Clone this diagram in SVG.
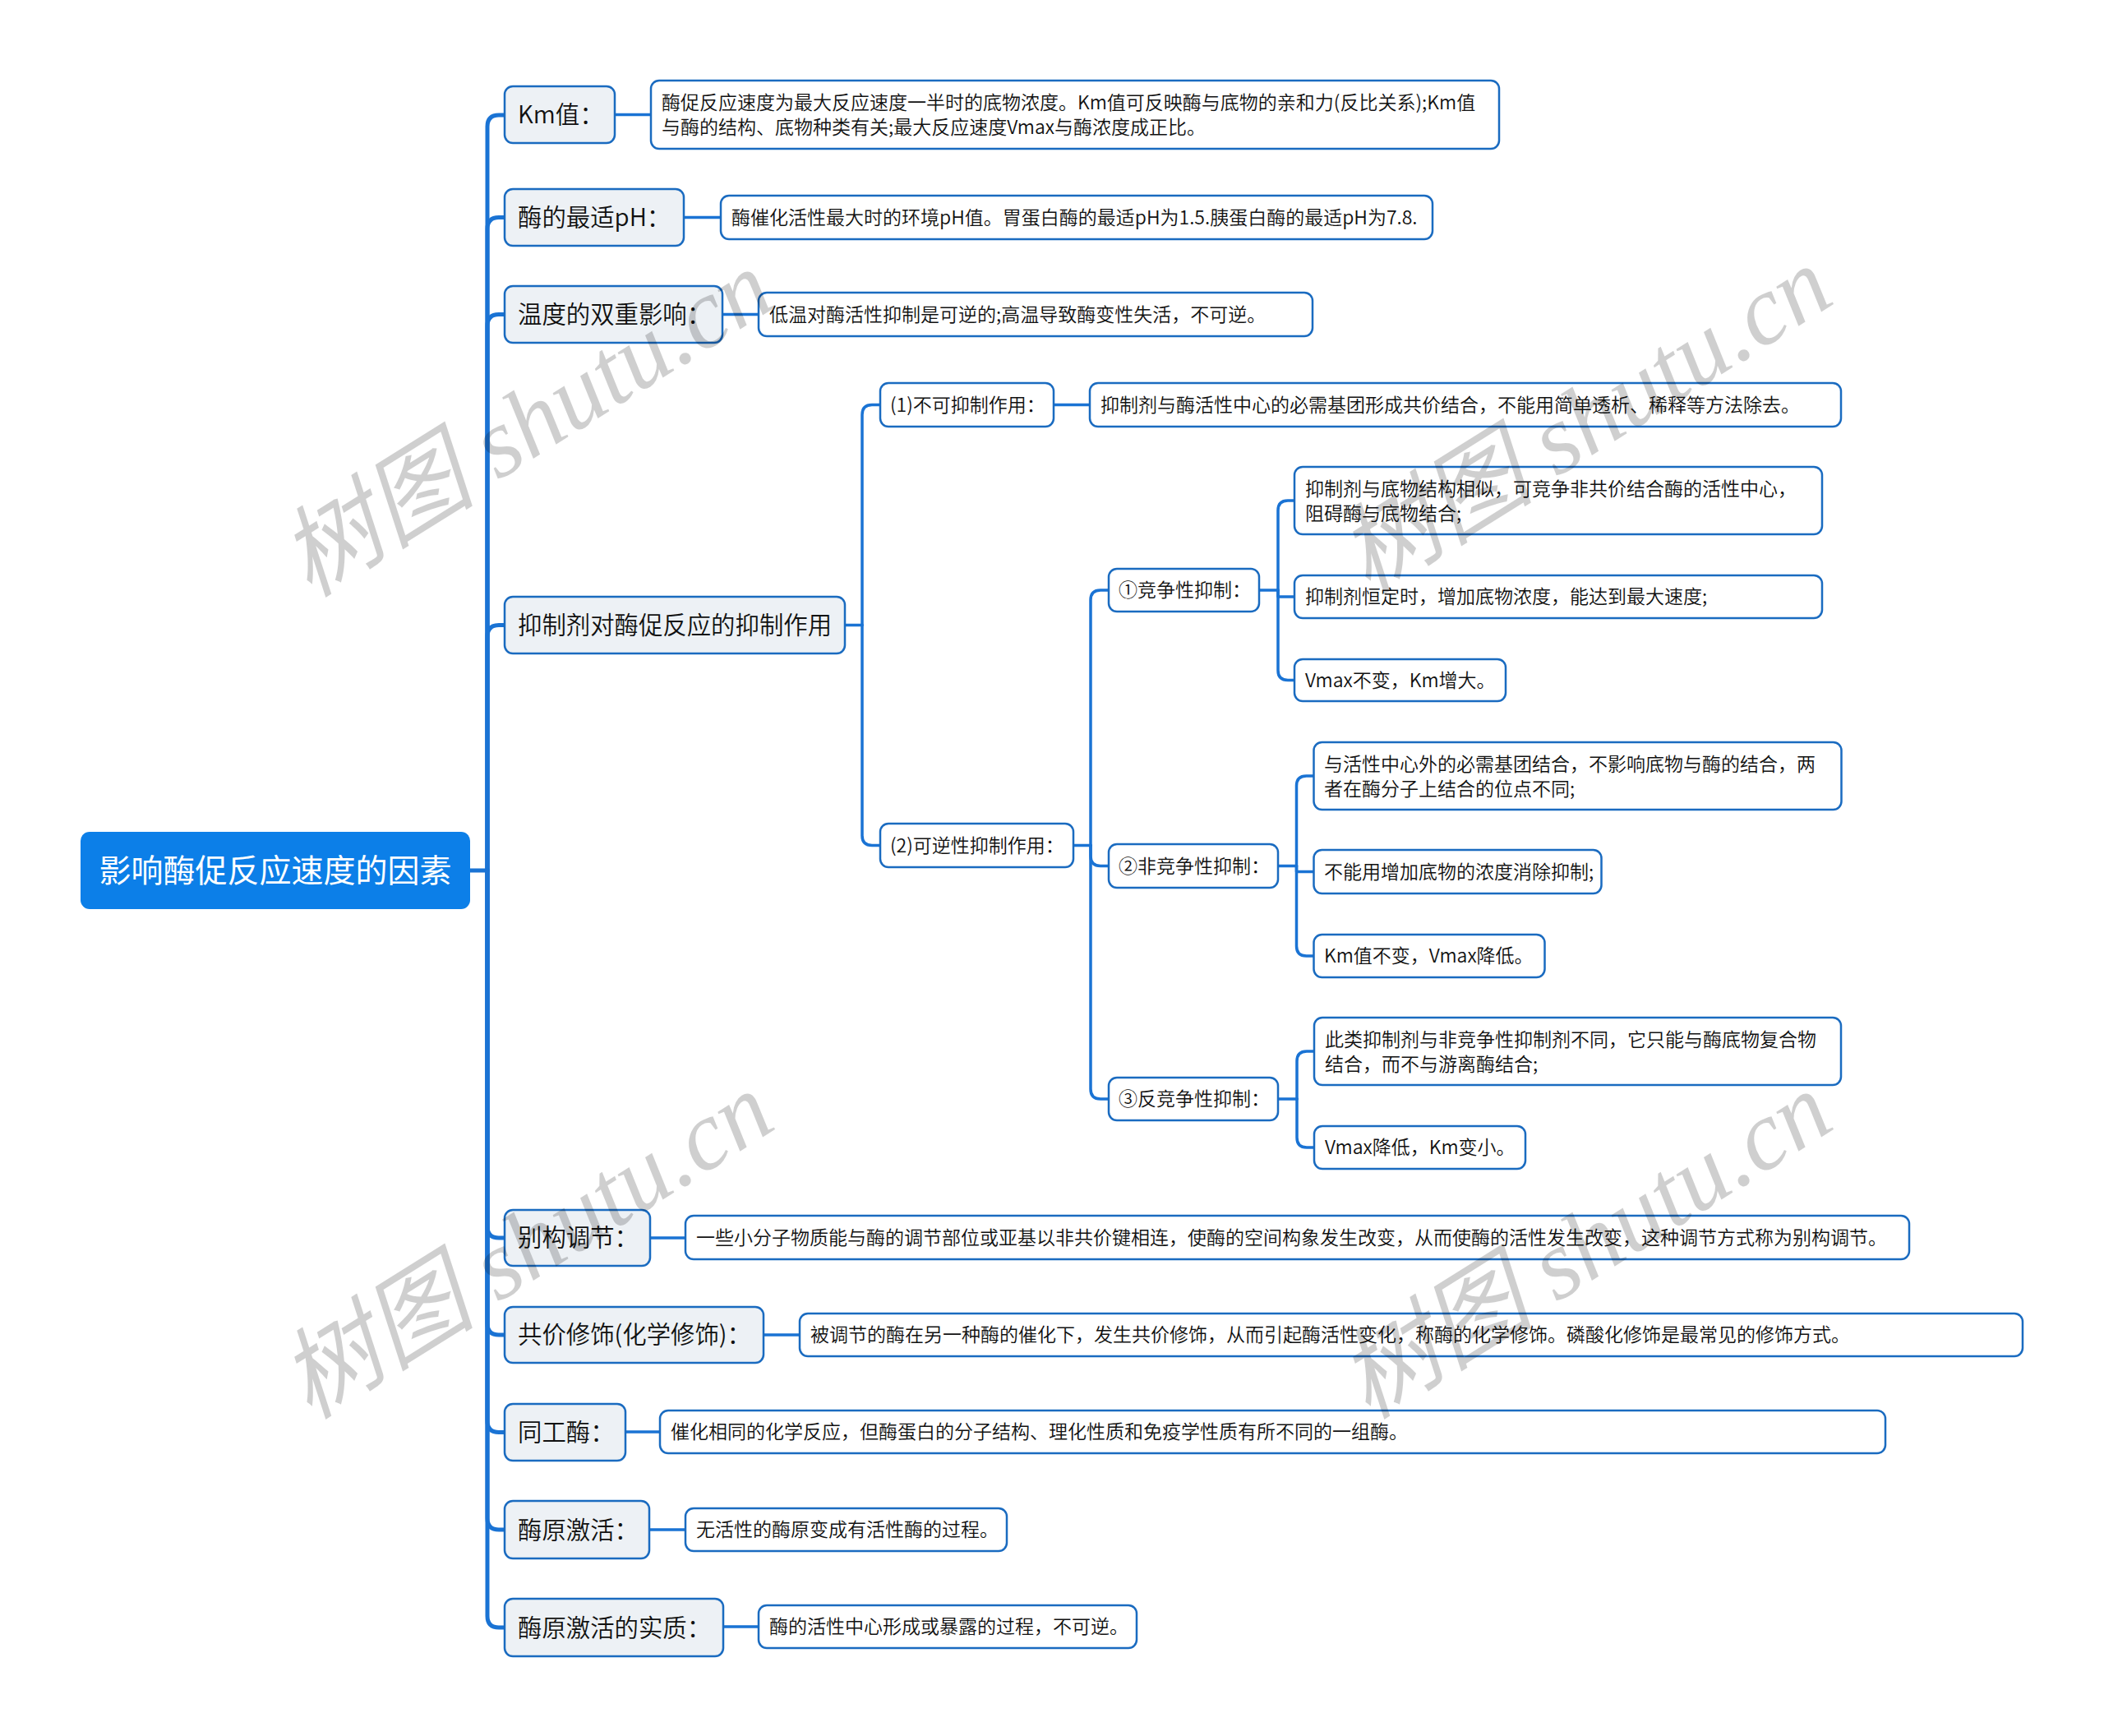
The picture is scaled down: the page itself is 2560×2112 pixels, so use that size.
<svg xmlns="http://www.w3.org/2000/svg" width="2560" height="2112" viewBox="0 0 2560 2112">
<style>
  .bg{fill:#ffffff}
  .root{fill:#0c7fe8}
  .l1{fill:#edf1f5;stroke:#1a6bc0;stroke-width:2.5}
  .lf{fill:#ffffff;stroke:#1a6bc0;stroke-width:2.5}
  .t{font-family:"Noto Sans CJK SC","Liberation Sans",sans-serif;fill:#111111;font-weight:350}
  .t0{font-size:39px;fill:#ffffff;font-weight:400}
  .t1{font-size:29.4px}
  .t2{font-size:23px}
  .c{fill:none;stroke:#1a73d4;stroke-width:3.5;stroke-linecap:round;stroke-linejoin:round}
  .cs{stroke-width:5}
  .wm{font-family:"Liberation Serif","Noto Sans CJK SC",serif;font-style:italic;font-size:120px;fill:#000000;fill-opacity:0.19}
</style>
<rect class="bg" x="0" y="0" width="2560" height="2112"/>

<g id="connectors">
  <path class="c cs" d="M572,1059 L593,1059"/>
  <path class="c cs" d="M593,1059 L593,154 Q593,140 607,140 L614,140"/>
  <path class="c cs" d="M593,1059 L593,278.5 Q593,264.5 607,264.5 L614,264.5"/>
  <path class="c cs" d="M593,1059 L593,396.5 Q593,382.5 607,382.5 L614,382.5"/>
  <path class="c cs" d="M593,1059 L593,774.5 Q593,760.5 607,760.5 L614,760.5"/>
  <path class="c cs" d="M593,1059 L593,1492 Q593,1506 607,1506 L614,1506"/>
  <path class="c cs" d="M593,1059 L593,1610 Q593,1624 607,1624 L614,1624"/>
  <path class="c cs" d="M593,1059 L593,1728.5 Q593,1742.5 607,1742.5 L614,1742.5"/>
  <path class="c cs" d="M593,1059 L593,1847 Q593,1861 607,1861 L614,1861"/>
  <path class="c cs" d="M593,1059 L593,1966 Q593,1980 607,1980 L614,1980"/>
  <path class="c" d="M748,139.5 L792,139.5"/>
  <path class="c" d="M832,264.5 L877,264.5"/>
  <path class="c" d="M879,382.5 L923,382.5"/>
  <path class="c" d="M791,1506 L834,1506"/>
  <path class="c" d="M929,1624 L973,1624"/>
  <path class="c" d="M761,1742 L803,1742"/>
  <path class="c" d="M790,1861 L834,1861"/>
  <path class="c" d="M880,1979 L923,1979"/>
  <path class="c" d="M1028,760.5 L1049,760.5"/>
  <path class="c" d="M1049,760.5 L1049,504.5 Q1049,492.5 1061,492.5 L1071,492.5"/>
  <path class="c" d="M1049,760.5 L1049,1016.5 Q1049,1028.5 1061,1028.5 L1071,1028.5"/>
  <path class="c" d="M1282,492.5 L1326,492.5"/>
  <path class="c" d="M1306,1028.5 L1327,1028.5"/>
  <path class="c" d="M1327,1028.5 L1327,730 Q1327,718 1339,718 L1349,718"/>
  <path class="c" d="M1327,1028.5 L1327,1041.5 Q1327,1053.5 1339,1053.5 L1349,1053.5"/>
  <path class="c" d="M1327,1028.5 L1327,1325 Q1327,1337 1339,1337 L1349,1337"/>
  <path class="c" d="M1532,718 L1555,718"/>
  <path class="c" d="M1555,718 L1555,621 Q1555,609 1567,609 L1575,609"/>
  <path class="c" d="M1555,718 L1555,726 L1575,726"/>
  <path class="c" d="M1555,718 L1555,815.5 Q1555,827.5 1567,827.5 L1575,827.5"/>
  <path class="c" d="M1555,1053.5 L1577.5,1053.5"/>
  <path class="c" d="M1577.5,1053.5 L1577.5,956 Q1577.5,944 1589.5,944 L1598.5,944"/>
  <path class="c" d="M1577.5,1053.5 L1577.5,1060.5 L1598.5,1060.5"/>
  <path class="c" d="M1577.5,1053.5 L1577.5,1151 Q1577.5,1163 1589.5,1163 L1598.5,1163"/>
  <path class="c" d="M1555,1337 L1578,1337"/>
  <path class="c" d="M1578,1337 L1578,1291 Q1578,1279 1590,1279 L1599,1279"/>
  <path class="c" d="M1578,1337 L1578,1384 Q1578,1396 1590,1396 L1599,1396"/>
</g>

<g id="root">
  <rect class="root" x="98" y="1012" width="474" height="94" rx="11"/>
  <text class="t t0" x="335" y="1073" text-anchor="middle">影响酶促反应速度的因素</text>
</g>

<g id="n-km">
  <rect class="l1" x="614" y="105" width="134" height="69" rx="10"/>
  <text class="t t1" x="630" y="150">Km值：</text>
</g>
<g id="n-km-d">
  <rect class="lf" x="792" y="98" width="1032" height="83" rx="10"/>
  <text class="t t2" x="805" y="133">酶促反应速度为最大反应速度一半时的底物浓度。Km值可反映酶与底物的亲和力(反比关系);Km值</text>
  <text class="t t2" x="805" y="163">与酶的结构、底物种类有关;最大反应速度Vmax与酶浓度成正比。</text>
</g>

<g id="n-ph">
  <rect class="l1" x="614" y="230" width="218" height="69" rx="10"/>
  <text class="t t1" x="630" y="275">酶的最适pH：</text>
</g>
<g id="n-ph-d">
  <rect class="lf" x="877" y="238" width="866" height="53" rx="10"/>
  <text class="t t2" x="890" y="273">酶催化活性最大时的环境pH值。胃蛋白酶的最适pH为1.5.胰蛋白酶的最适pH为7.8.</text>
</g>

<g id="n-temp">
  <rect class="l1" x="614" y="348" width="265" height="69" rx="10"/>
  <text class="t t1" x="630" y="393">温度的双重影响：</text>
</g>
<g id="n-temp-d">
  <rect class="lf" x="923" y="356" width="674" height="53" rx="10"/>
  <text class="t t2" x="936" y="391">低温对酶活性抑制是可逆的;高温导致酶变性失活，不可逆。</text>
</g>

<g id="n-inh">
  <rect class="l1" x="614" y="726" width="414" height="69" rx="10"/>
  <text class="t t1" x="630" y="771">抑制剂对酶促反应的抑制作用</text>
</g>

<g id="n-irrev">
  <rect class="lf" x="1071" y="466" width="211" height="53" rx="10"/>
  <text class="t t2" x="1083" y="501">(1)不可抑制作用：</text>
</g>
<g id="n-irrev-d">
  <rect class="lf" x="1326" y="466" width="914" height="53" rx="10"/>
  <text class="t t2" x="1339" y="501">抑制剂与酶活性中心的必需基团形成共价结合，不能用简单透析、稀释等方法除去。</text>
</g>

<g id="n-rev">
  <rect class="lf" x="1071" y="1002" width="235" height="53" rx="10"/>
  <text class="t t2" x="1083" y="1037">(2)可逆性抑制作用：</text>
</g>

<g id="n-comp">
  <rect class="lf" x="1349" y="692" width="183" height="52" rx="10"/>
  <text class="t t2" x="1361" y="726">①竞争性抑制：</text>
</g>
<g id="n-comp-a">
  <rect class="lf" x="1575" y="568" width="642" height="82" rx="10"/>
  <text class="t t2" x="1588" y="603">抑制剂与底物结构相似，可竞争非共价结合酶的活性中心，</text>
  <text class="t t2" x="1588" y="633">阻碍酶与底物结合;</text>
</g>
<g id="n-comp-b">
  <rect class="lf" x="1575" y="700" width="642" height="52" rx="10"/>
  <text class="t t2" x="1588" y="734">抑制剂恒定时，增加底物浓度，能达到最大速度;</text>
</g>
<g id="n-comp-c">
  <rect class="lf" x="1575" y="802" width="257" height="51" rx="10"/>
  <text class="t t2" x="1588" y="836">Vmax不变，Km增大。</text>
</g>

<g id="n-noncomp">
  <rect class="lf" x="1349" y="1027" width="206" height="53" rx="10"/>
  <text class="t t2" x="1361" y="1062">②非竞争性抑制：</text>
</g>
<g id="n-noncomp-a">
  <rect class="lf" x="1598.5" y="903" width="642" height="82" rx="10"/>
  <text class="t t2" x="1611" y="938">与活性中心外的必需基团结合，不影响底物与酶的结合，两</text>
  <text class="t t2" x="1611" y="968">者在酶分子上结合的位点不同;</text>
</g>
<g id="n-noncomp-b">
  <rect class="lf" x="1598.5" y="1034" width="350" height="53" rx="10"/>
  <text class="t t2" x="1611" y="1069">不能用增加底物的浓度消除抑制;</text>
</g>
<g id="n-noncomp-c">
  <rect class="lf" x="1598.5" y="1137" width="281" height="52" rx="10"/>
  <text class="t t2" x="1611" y="1171">Km值不变，Vmax降低。</text>
</g>

<g id="n-uncomp">
  <rect class="lf" x="1349" y="1311" width="206" height="52" rx="10"/>
  <text class="t t2" x="1361" y="1345">③反竞争性抑制：</text>
</g>
<g id="n-uncomp-a">
  <rect class="lf" x="1599" y="1238" width="641" height="82" rx="10"/>
  <text class="t t2" x="1612" y="1273">此类抑制剂与非竞争性抑制剂不同，它只能与酶底物复合物</text>
  <text class="t t2" x="1612" y="1303">结合，而不与游离酶结合;</text>
</g>
<g id="n-uncomp-b">
  <rect class="lf" x="1599" y="1370" width="257" height="52" rx="10"/>
  <text class="t t2" x="1612" y="1404">Vmax降低，Km变小。</text>
</g>

<g id="n-allo">
  <rect class="l1" x="614" y="1472" width="177" height="68" rx="10"/>
  <text class="t t1" x="630" y="1516">别构调节：</text>
</g>
<g id="n-allo-d">
  <rect class="lf" x="834" y="1479" width="1489" height="53" rx="10"/>
  <text class="t t2" x="847" y="1514">一些小分子物质能与酶的调节部位或亚基以非共价键相连，使酶的空间构象发生改变，从而使酶的活性发生改变，这种调节方式称为别构调节。</text>
</g>

<g id="n-cov">
  <rect class="l1" x="614" y="1590" width="315" height="68" rx="10"/>
  <text class="t t1" x="630" y="1634">共价修饰(化学修饰)：</text>
</g>
<g id="n-cov-d">
  <rect class="lf" x="973" y="1598" width="1488" height="52" rx="10"/>
  <text class="t t2" x="986" y="1632">被调节的酶在另一种酶的催化下，发生共价修饰，从而引起酶活性变化，称酶的化学修饰。磷酸化修饰是最常见的修饰方式。</text>
</g>

<g id="n-iso">
  <rect class="l1" x="614" y="1708" width="147" height="69" rx="10"/>
  <text class="t t1" x="630" y="1753">同工酶：</text>
</g>
<g id="n-iso-d">
  <rect class="lf" x="803" y="1716" width="1491" height="52" rx="10"/>
  <text class="t t2" x="816" y="1750">催化相同的化学反应，但酶蛋白的分子结构、理化性质和免疫学性质有所不同的一组酶。</text>
</g>

<g id="n-zym">
  <rect class="l1" x="614" y="1826" width="176" height="70" rx="10"/>
  <text class="t t1" x="630" y="1872">酶原激活：</text>
</g>
<g id="n-zym-d">
  <rect class="lf" x="834" y="1835" width="391" height="52" rx="10"/>
  <text class="t t2" x="847" y="1869">无活性的酶原变成有活性酶的过程。</text>
</g>

<g id="n-zym2">
  <rect class="l1" x="614" y="1945" width="266" height="70" rx="10"/>
  <text class="t t1" x="630" y="1991">酶原激活的实质：</text>
</g>
<g id="n-zym2-d">
  <rect class="lf" x="923" y="1953" width="460" height="52" rx="10"/>
  <text class="t t2" x="936" y="1987">酶的活性中心形成或暴露的过程，不可逆。</text>
</g>

<g id="watermarks">
  <text class="wm" x="640" y="514" text-anchor="middle" dy="0.35em" transform="rotate(-32 640 514)">树图 shutu.cn</text>
  <text class="wm" x="1928" y="510" text-anchor="middle" dy="0.35em" transform="rotate(-32 1928 510)">树图 shutu.cn</text>
  <text class="wm" x="640" y="1514" text-anchor="middle" dy="0.35em" transform="rotate(-32 640 1514)">树图 shutu.cn</text>
  <text class="wm" x="1928" y="1514" text-anchor="middle" dy="0.35em" transform="rotate(-32 1928 1514)">树图 shutu.cn</text>
</g>
</svg>
